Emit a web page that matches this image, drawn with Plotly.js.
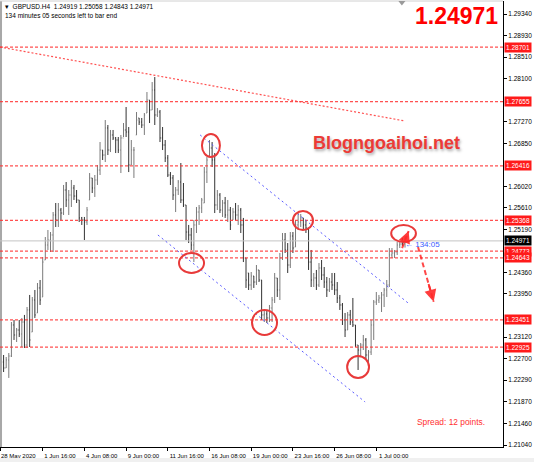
<!DOCTYPE html>
<html>
<head>
<meta charset="utf-8">
<script src="https://cdn.plot.ly/plotly-3.0.1.min.js"></script>
<style>
html,body{margin:0;padding:0;background:#fff;}
#chart{width:534px;height:462px;}
</style>
</head>
<body>
<div id="chart"></div>
<script>
// ---- Chart data (GBPUSD H4) ----
const xTickIndex = [0, 16, 32, 48, 64, 80, 96, 112, 128, 144];
const xTickLabels = ["28 May 2020", "1 Jun 16:00", "4 Jun 08:00", "9 Jun 00:00", "11 Jun 16:00",
  "16 Jun 08:00", "19 Jun 00:00", "23 Jun 16:00", "26 Jun 08:00", "1 Jul 00:00"];

const yTickValues = [1.29340, 1.28930, 1.28510, 1.28100, 1.27270, 1.26850, 1.26020, 1.25610, 1.25190,
  1.24360, 1.23950, 1.23120, 1.22700, 1.22290, 1.21870, 1.21460, 1.21040];

const opens = [
  1.22582,1.22639,1.22524,1.22678,1.22754,1.23352,1.23159,1.23255,1.23178,1.23409,
  1.22966,1.23641,1.23216,1.23833,1.23583,1.24065,1.23891,1.24603,1.24892,1.24988,
  1.25085,1.25470,1.25374,1.25566,1.25508,1.25951,1.25759,1.25855,1.25990,1.25835,
  1.25759,1.25413,1.25374,1.25335,1.25759,1.26183,1.25990,1.26144,1.26336,1.26721,
  1.26625,1.27146,1.26721,1.27011,1.26953,1.26914,1.26721,1.26953,1.27107,1.27068,
  1.26433,1.26721,1.27011,1.27338,1.27260,1.27203,1.27434,1.27684,1.27492,1.27877,
  1.27396,1.27453,1.26953,1.26818,1.26568,1.26240,1.26183,1.25855,1.25951,1.26105,
  1.25759,1.25663,1.25142,1.25085,1.24892,1.25278,1.25527,1.25605,1.25701,1.26297,
  1.26586,1.26760,1.26529,1.25663,1.25855,1.25566,1.25701,1.25470,1.25566,1.25374,
  1.25527,1.25470,1.25566,1.25278,1.24642,1.24353,1.24122,1.24295,1.24179,1.24411,
  1.24218,1.23545,1.23564,1.23487,1.23679,1.23833,1.24257,1.24026,1.24642,1.24988,
  1.24796,1.24507,1.25065,1.24853,1.25278,1.25335,1.25413,1.25278,1.25220,1.24564,
  1.24218,1.24257,1.24122,1.24449,1.24315,1.24179,1.24026,1.24179,1.24122,1.24026,
  1.23872,1.23737,1.23448,1.23255,1.23545,1.23409,1.23352,1.22966,1.22870,1.22966,
  1.23063,1.22774,1.22831,1.23352,1.23794,1.23833,1.23872,1.23930,1.24026,1.24122,
  1.24700,1.24738,1.24757,1.24892,1.24911,1.24919];

const highs = [
  1.22678,1.22774,1.22735,1.22812,1.23409,1.23448,1.23294,1.23448,1.23487,1.23545,
  1.23698,1.23930,1.23891,1.24026,1.24160,1.24218,1.24661,1.25046,1.25181,1.25142,
  1.25527,1.25701,1.25701,1.25605,1.26048,1.26105,1.25951,1.26144,1.26048,1.25951,
  1.25759,1.25432,1.25432,1.25624,1.26278,1.26183,1.26240,1.26433,1.26875,1.26721,
  1.27299,1.27203,1.27107,1.27107,1.26972,1.26972,1.27011,1.27241,1.27549,1.27164,
  1.26914,1.26779,1.27453,1.27338,1.27338,1.27434,1.27838,1.27684,1.28030,1.28127,
  1.27530,1.27492,1.27164,1.26914,1.26625,1.26297,1.26240,1.26009,1.26144,1.26471,
  1.26086,1.25663,1.25278,1.25220,1.25374,1.25624,1.25663,1.25798,1.26394,1.26586,
  1.26914,1.26875,1.26663,1.25951,1.25893,1.25759,1.25817,1.25759,1.25624,1.25605,
  1.25701,1.25663,1.25605,1.25413,1.24642,1.24353,1.24372,1.24295,1.24507,1.24411,
  1.24218,1.23641,1.23641,1.23737,1.23891,1.24353,1.24257,1.24738,1.25123,1.25123,
  1.24930,1.25142,1.25142,1.25374,1.25508,1.25489,1.25413,1.25374,1.25220,1.24796,
  1.24353,1.24411,1.24545,1.24603,1.24468,1.24276,1.24257,1.24353,1.24353,1.24179,
  1.23930,1.23775,1.23583,1.23602,1.23641,1.23872,1.23352,1.22966,1.23005,1.23159,
  1.23101,1.22870,1.23448,1.23833,1.23987,1.23930,1.23987,1.24065,1.24218,1.24834,
  1.24834,1.24796,1.24949,1.24949,1.25027,1.25058];

const lows = [
  1.22543,1.22446,1.22524,1.22332,1.22735,1.23063,1.23024,1.23120,1.22928,1.22909,
  1.22909,1.22928,1.23216,1.23487,1.23583,1.23737,1.23891,1.24603,1.24796,1.24757,
  1.24757,1.25239,1.25239,1.25374,1.25470,1.25624,1.25470,1.25624,1.25759,1.25701,
  1.25335,1.25278,1.24988,1.25278,1.25759,1.25893,1.25817,1.26048,1.26240,1.26529,
  1.26490,1.26625,1.26682,1.26914,1.26663,1.26663,1.26278,1.26972,1.26972,1.26297,
  1.26433,1.26183,1.27011,1.27203,1.27146,1.27011,1.27434,1.27241,1.27492,1.27203,
  1.27357,1.26875,1.26721,1.26490,1.26201,1.26048,1.25759,1.25527,1.25855,1.25701,
  1.25624,1.24988,1.24930,1.24796,1.24564,1.25123,1.25278,1.25508,1.25701,1.26086,
  1.26586,1.26394,1.25508,1.25566,1.25508,1.25432,1.25413,1.25335,1.25181,1.25374,
  1.25374,1.25278,1.25123,1.24564,1.24065,1.24026,1.24026,1.24065,1.24122,1.24179,
  1.23448,1.23409,1.23390,1.23409,1.23409,1.23775,1.23891,1.23833,1.24603,1.24738,
  1.24353,1.24449,1.24738,1.24853,1.25181,1.25239,1.25181,1.25123,1.24411,1.24083,
  1.24083,1.24026,1.24083,1.24218,1.24065,1.23891,1.23987,1.24026,1.23930,1.23775,
  1.23641,1.23352,1.23120,1.23255,1.23352,1.23313,1.22928,1.22485,1.22735,1.22870,
  1.22678,1.22582,1.22774,1.23063,1.23737,1.23775,1.23602,1.23698,1.23891,1.24083,
  1.24642,1.24642,1.24700,1.24834,1.24872,1.24843];

const closes = [
  1.22639,1.22524,1.22678,1.22754,1.23352,1.23159,1.23255,1.23178,1.23409,1.22966,
  1.23641,1.23063,1.23833,1.23545,1.24065,1.23833,1.24564,1.24892,1.24988,1.25085,
  1.25470,1.25374,1.25566,1.25508,1.25951,1.25759,1.25855,1.25990,1.25835,1.25759,
  1.25413,1.25374,1.25335,1.25566,1.26183,1.25990,1.26144,1.26336,1.26721,1.26625,
  1.27146,1.26721,1.27011,1.26953,1.26914,1.26721,1.26953,1.27107,1.27068,1.26433,
  1.26721,1.26721,1.27299,1.27260,1.27203,1.27396,1.27684,1.27492,1.27877,1.27396,
  1.27453,1.26953,1.26818,1.26568,1.26240,1.26183,1.25855,1.25951,1.26105,1.25759,
  1.25663,1.25142,1.25085,1.24892,1.25278,1.25527,1.25605,1.25759,1.26297,1.26529,
  1.26760,1.26529,1.25663,1.25855,1.25566,1.25701,1.25470,1.25566,1.25278,1.25527,
  1.25470,1.25566,1.25278,1.24642,1.24218,1.24122,1.24295,1.24179,1.24411,1.24218,
  1.23545,1.23564,1.23487,1.23679,1.23833,1.24257,1.24026,1.24642,1.24988,1.24796,
  1.24507,1.25065,1.24834,1.25278,1.25335,1.25413,1.25278,1.25220,1.24564,1.24218,
  1.24257,1.24122,1.24449,1.24315,1.24179,1.24026,1.24179,1.24122,1.24026,1.23872,
  1.23737,1.23448,1.23255,1.23545,1.23409,1.23352,1.22966,1.22870,1.22966,1.23063,
  1.22774,1.22831,1.23352,1.23794,1.23833,1.23872,1.23930,1.24026,1.24122,1.24700,
  1.24738,1.24757,1.24892,1.24911,1.24892,1.24971];

// horizontal support / resistance levels (red price labels)
const redLevels = [1.28701, 1.27655, 1.26416, 1.25368, 1.24773, 1.24643, 1.23451, 1.22925];
const currentPrice = 1.24971;

// drawn objects: [barIndex, price] endpoints
const redTrend = [[-0.4, 1.28705], [155, 1.27280]];
const blueUpper = [[76.4, 1.27011], [156.2, 1.23775]];
const blueLower = [[60.2, 1.25085], [139.7, 1.21869]];
// circles: [x0, x1, y0, y1]
const circles = [
  [77.1, 84.0, 1.26587, 1.27030],
  [68.3, 77.9, 1.24353, 1.24738],
  [112.0, 119.7, 1.25181, 1.25547],
  [96.3, 105.9, 1.23159, 1.23641],
  [132.8, 141.2, 1.22331, 1.22755],
  [149.7, 159.2, 1.24950, 1.25277]
];
// arrows: [tailX, tailY, headX, headY]
const arrows = [
  [153.9, 1.24834, 156.4, 1.25160],
  [160.0, 1.24853, 166.0, 1.23800]
];

// ---- build chart ----
const idx = opens.map((_, i) => i);
const FONT = "Liberation Sans, Arial, sans-serif";

// left-align MT4-style date labels: pad to equal length, then shift right by half a label
const maxLen = Math.max(...xTickLabels.map(s => s.length));
const paddedLabels = xTickLabels.map(s => s + '\u00a0'.repeat(Math.round((maxLen - s.length) * 2.2)));

const trace = {
  type: 'ohlc',
  x: idx, open: opens, high: highs, low: lows, close: closes,
  increasing: {line: {color: '#7a7a7a', width: 1}},
  decreasing: {line: {color: '#333333', width: 1}},
  tickwidth: 0.3,
  hoverinfo: 'skip',
  showlegend: false
};

const LEVEL_RED = 'rgba(255,50,50,0.85)';
const shapes = [];
shapes.push({type: 'rect', xref: 'paper', yref: 'paper', x0: 0, x1: 0.004, y0: 0, y1: 1,
  fillcolor: '#a8a8a8', line: {width: 0}});
shapes.push({type: 'rect', xref: 'paper', yref: 'paper', x0: 0, x1: 534/503, y0: -0.0245, y1: -0.04,
  fillcolor: '#f0f0f0', line: {width: 0}});
shapes.push({type: 'line', xref: 'paper', yref: 'paper', x0: 0, x1: 1, y0: 1, y1: 1,
  line: {color: '#d0d0d0', width: 1}});
shapes.push({type: 'path', xref: 'paper', yref: 'paper', path: 'M 0.792 1 L 0.806 1 L 0.799 0.99 Z',
  fillcolor: '#9a9a9a', line: {width: 0}});
shapes.push({type: 'line', xref: 'paper', yref: 'y', x0: 0, x1: 1, y0: currentPrice, y1: currentPrice,
  line: {color: '#c4c4c4', width: 1}});
redLevels.forEach(v => shapes.push({type: 'line', xref: 'paper', yref: 'y', x0: 0, x1: 1, y0: v, y1: v,
  line: {color: LEVEL_RED, width: 1.3, dash: '3px,2px'}}));
shapes.push({type: 'line', xref: 'x', yref: 'y', x0: redTrend[0][0], y0: redTrend[0][1], x1: redTrend[1][0], y1: redTrend[1][1],
  line: {color: LEVEL_RED, width: 1.2, dash: '2px,2px'}});
[blueUpper, blueLower].forEach(l => shapes.push({type: 'line', xref: 'x', yref: 'y',
  x0: l[0][0], y0: l[0][1], x1: l[1][0], y1: l[1][1],
  line: {color: '#5a5aff', width: 1, dash: '2px,3px'}}));
circles.forEach(c => shapes.push({type: 'circle', xref: 'x', yref: 'y', x0: c[0], x1: c[1], y0: c[2], y1: c[3],
  line: {color: '#e83a3a', width: 2}}));
arrows.forEach(a => shapes.push({type: 'line', xref: 'x', yref: 'y', x0: a[0], y0: a[1], x1: a[2], y1: a[3],
  line: {color: 'rgba(255,40,40,0.85)', width: 2, dash: '5px,3px'}}));

const annotations = [];
arrows.forEach(a => annotations.push({x: a[2], y: a[3], xref: 'x', yref: 'y',
  ax: a[2] - (a[2] - a[0]) * 0.35, ay: a[3] - (a[3] - a[1]) * 0.35, axref: 'x', ayref: 'y',
  showarrow: true, arrowhead: 2, arrowsize: 1.2, arrowwidth: 2, arrowcolor: 'rgba(255,40,40,0.9)', text: ''}));
redLevels.forEach(v => annotations.push({xref: 'paper', yref: 'y', x: 1, y: v, xanchor: 'left', yanchor: 'middle',
  xshift: 1, text: v.toFixed(5), showarrow: false, bgcolor: '#ff1a1a', borderpad: 1,
  font: {family: FONT, size: 6.5, color: '#ffffff'}}));
annotations.push({xref: 'paper', yref: 'y', x: 1, y: currentPrice, xanchor: 'left', yanchor: 'middle',
  xshift: 1, text: currentPrice.toFixed(5), showarrow: false, bgcolor: '#000000', borderpad: 1,
  font: {family: FONT, size: 6.5, color: '#ffffff'}});
annotations.push({xref: 'paper', yref: 'paper', x: 0, y: 1, xanchor: 'left', yanchor: 'top', xshift: 3, yshift: 0,
  text: '▾  GBPUSD.H4  1.24919 1.25058 1.24843 1.24971', showarrow: false, align: 'left',
  font: {family: FONT, size: 6.5, color: '#000'}});
annotations.push({xref: 'paper', yref: 'paper', x: 0, y: 1, xanchor: 'left', yanchor: 'top', xshift: 3, yshift: -9,
  text: '134 minutes 05 seconds left to bar end', showarrow: false, align: 'left',
  font: {family: FONT, size: 6.5, color: '#000'}});
annotations.push({xref: 'paper', yref: 'paper', x: 500/503, y: (447-16)/446, xanchor: 'right', yanchor: 'middle',
  text: '<b>1.24971</b>', showarrow: false, font: {family: FONT, size: 23, color: '#ff0000'}});
annotations.push({xref: 'paper', yref: 'paper', x: 386/503, y: (447-143)/446, xanchor: 'center', yanchor: 'middle',
  text: '<b>Blogngoaihoi.net</b>', showarrow: false,
  font: {family: FONT, size: 18, color: '#ec3b36', shadow: '1px 2px 3px rgba(0,0,0,0.35)'}});
annotations.push({xref: 'paper', yref: 'paper', x: 403/503, y: (447-244)/446, xanchor: 'left', yanchor: 'middle',
  text: '← 134:05', showarrow: false, font: {family: FONT, size: 8, color: '#3a5cff'}});
annotations.push({xref: 'paper', yref: 'paper', x: 415/503, y: (447-422)/446, xanchor: 'left', yanchor: 'middle',
  text: 'Spread: 12 points.', showarrow: false, font: {family: FONT, size: 8.4, color: '#ff3030'}});

const layout = {
  width: 534, height: 462,
  margin: {l: 0, r: 31, t: 1, b: 15},
  paper_bgcolor: '#ffffff', plot_bgcolor: '#ffffff',
  showlegend: false,
  xaxis: {
    range: [-0.38, 192.6], showgrid: false, zeroline: false,
    showline: true, linecolor: '#000', linewidth: 1,
    ticks: 'outside', ticklen: 3, tickcolor: '#000',
    tickmode: 'array', tickvals: xTickIndex, ticktext: paddedLabels,
    ticklabelshift: 19, ticklabelstandoff: 0, ticklabeloverflow: 'allow',
    tickfont: {family: FONT, size: 6, color: '#000'},
    rangeslider: {visible: false}, fixedrange: true
  },
  yaxis: {
    side: 'right', range: [1.21002, 1.29591], showgrid: false, zeroline: false,
    showline: true, linecolor: '#000', linewidth: 1,
    ticks: 'outside', ticklen: 3, tickcolor: '#000',
    tickmode: 'array', tickvals: yTickValues, ticktext: yTickValues.map(v => v.toFixed(5)),
    tickfont: {family: FONT, size: 6.5, color: '#000'},
    fixedrange: true
  },
  shapes: shapes,
  annotations: annotations
};

Plotly.newPlot('chart', [trace], layout, {staticPlot: true, displayModeBar: false});
</script>
</body>
</html>
